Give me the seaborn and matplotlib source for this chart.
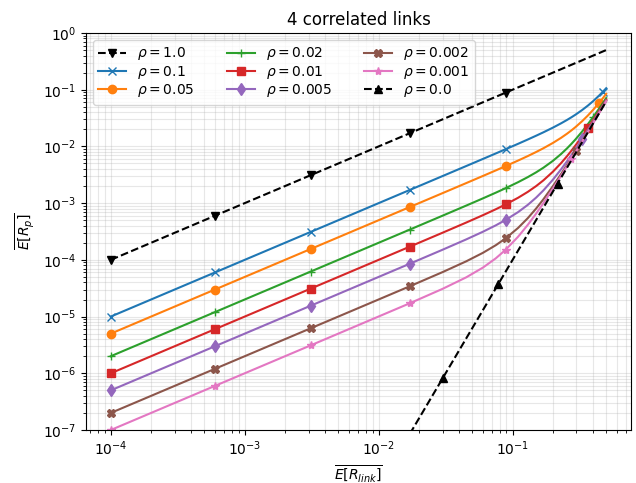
import matplotlib
matplotlib.use('Agg')
import matplotlib.pyplot as plt
import seaborn as sns

# x grid shared by the rho > 0 curves
x_grid = [1e-4, 6e-4, 3.1e-3, 0.0171, 0.03, 0.045, 0.06, 0.075, 0.0886, 0.11, 0.13, 0.15,
          0.17, 0.2, 0.23, 0.255, 0.275, 0.295, 0.33, 0.365, 0.4, 0.44, 0.47, 0.5]

# rho = 1.0 and rho = 0.0 are straight lines, own points
x_rho1 = [1e-4, 6e-4, 3.1e-3, 0.0171, 0.0886, 0.5]
y_rho1 = [1e-4, 6e-4, 3.1e-3, 0.0171, 0.0886, 0.5]

x_rho0 = [0.0171, 0.03, 0.05, 0.078, 0.12, 0.17, 0.217, 0.3, 0.4, 0.5]
y_rho0 = [8.55e-8, 8.1e-7, 6.25e-6, 3.70e-5, 2.07e-4, 8.35e-4, 2.217e-3, 8.1e-3, 0.0256, 0.0625]

y_rho_01 = [1e-5, 6e-5, 3.1e-4, 1.71e-3, 3.001e-3, 4.504e-3, 6.012e-3, 7.528e-3, 8.915e-3,
            0.01113, 0.01326, 0.01546, 0.01775, 0.02144, 0.02552, 0.02931, 0.03265, 0.03632,
            0.04367, 0.05247, 0.06304, 0.07773, 0.09092, 0.10625]
y_rho_005 = [5e-6, 3e-5, 1.55e-4, 8.551e-4, 1.5008e-3, 2.2539e-3, 3.0123e-3, 3.780e-3, 4.4885e-3,
             5.639e-3, 6.771e-3, 7.981e-3, 9.293e-3, 0.01152, 0.01416, 0.01677, 0.01918, 0.02194,
             0.02777, 0.03511, 0.04432, 0.05761, 0.06986, 0.08438]
y_rho_002 = [2e-6, 1.2e-5, 6.2e-5, 3.4208e-4, 6.008e-4, 9.040e-4, 1.2127e-3, 1.531e-3, 1.8324e-3,
             2.3435e-3, 2.880e-3, 3.496e-3, 4.2185e-3, 5.568e-3, 7.342e-3, 9.243e-3, 0.011105,
             0.013322, 0.018222, 0.024694, 0.033088, 0.045531, 0.057221, 0.07125]
y_rho_001 = [1e-6, 6e-6, 3.1e-5, 1.7108e-4, 3.008e-4, 4.541e-4, 6.128e-4, 7.813e-4, 9.470e-4,
             1.2449e-3, 1.5827e-3, 2.0012e-3, 2.5268e-3, 3.584e-3, 5.070e-3, 6.736e-3, 8.412e-3,
             0.010447, 0.01504, 0.021222, 0.029344, 0.041506, 0.053009, 0.066875]
y_rho_0005 = [5e-7, 3e-6, 1.55e-5, 8.5585e-5, 1.508e-4, 2.2908e-4, 3.129e-4, 4.0648e-4, 5.0431e-4,
              6.957e-4, 9.342e-4, 1.2537e-3, 1.681e-3, 2.592e-3, 3.934e-3, 5.482e-3, 7.065e-3,
              9.010e-3, 0.01345, 0.019485, 0.027472, 0.039494, 0.050903, 0.064688]
y_rho_0002 = [2e-7, 1.2e-6, 6.2e-6, 3.4285e-5, 6.081e-5, 9.409e-5, 1.3293e-4, 1.8158e-4, 2.387e-4,
              3.661e-4, 5.450e-4, 8.052e-4, 1.1735e-3, 1.9968e-3, 3.252e-3, 4.730e-3, 6.258e-3,
              8.148e-3, 0.012495, 0.018444, 0.026349, 0.038286, 0.04964, 0.063375]
y_rho_0001 = [1e-7, 6e-7, 3.1e-6, 1.7185e-5, 3.081e-5, 4.910e-5, 7.295e-5, 1.0661e-4, 1.5016e-4,
              2.5625e-4, 4.153e-4, 6.557e-4, 1.0044e-3, 1.7984e-3, 3.025e-3, 4.479e-3, 5.988e-3,
              7.860e-3, 0.012177, 0.018096, 0.025974, 0.037884, 0.049218, 0.062938]

fig, ax = plt.subplots(figsize=(6.36, 4.83), dpi=100)
fig.subplots_adjust(left=0.1352, right=0.9921, bottom=0.1097, top=0.9317)
ax.set_xscale('log')
ax.set_yscale('log')

# rho = 1.0
sns.lineplot(x=x_rho1, y=y_rho1, ax=ax, color='black', linestyle='--', marker='v',
             markevery=[0, 1, 2, 3, 4], mec='black', mew=1.0, label=r'$\rho = 1.0$')

# correlated curves: (y values, colour, marker, marker indices, label)
curves = [
    (y_rho_01, 'C0', 'x', 22, r'$\rho = 0.1$'),
    (y_rho_005, 'C1', 'o', 21, r'$\rho = 0.05$'),
    (y_rho_002, 'C2', '+', 20, r'$\rho = 0.02$'),
    (y_rho_001, 'C3', 's', 19, r'$\rho = 0.01$'),
    (y_rho_0005, 'C4', 'd', 18, r'$\rho = 0.005$'),
    (y_rho_0002, 'C5', 'X', 17, r'$\rho = 0.002$'),
    (y_rho_0001, 'C6', '*', 16, r'$\rho = 0.001$'),
]
for yv, col, mk, last, lab in curves:
    sns.lineplot(x=x_grid, y=yv, ax=ax, color=col, marker=mk,
                 markevery=[0, 1, 2, 3, 8, last], mec=col, mew=1.0, label=lab)

# rho = 0.0
sns.lineplot(x=x_rho0, y=y_rho0, ax=ax, color='black', linestyle='--', marker='^',
             markevery=[1, 3, 6], mec='black', mew=1.0, label=r'$\rho = 0.0$')

ax.set_ylim(1e-7, 1)
ax.grid(True, which='both', alpha=0.3)
ax.set_xlabel(r'$\overline{E[R_{link}]}$')
ax.set_ylabel(r'$\overline{E[R_p]}$')
ax.set_title('4 correlated links')
ax.legend(loc='upper left', ncol=3, labelspacing=0.1, columnspacing=2.3)

plt.savefig('out.png', dpi=100)
